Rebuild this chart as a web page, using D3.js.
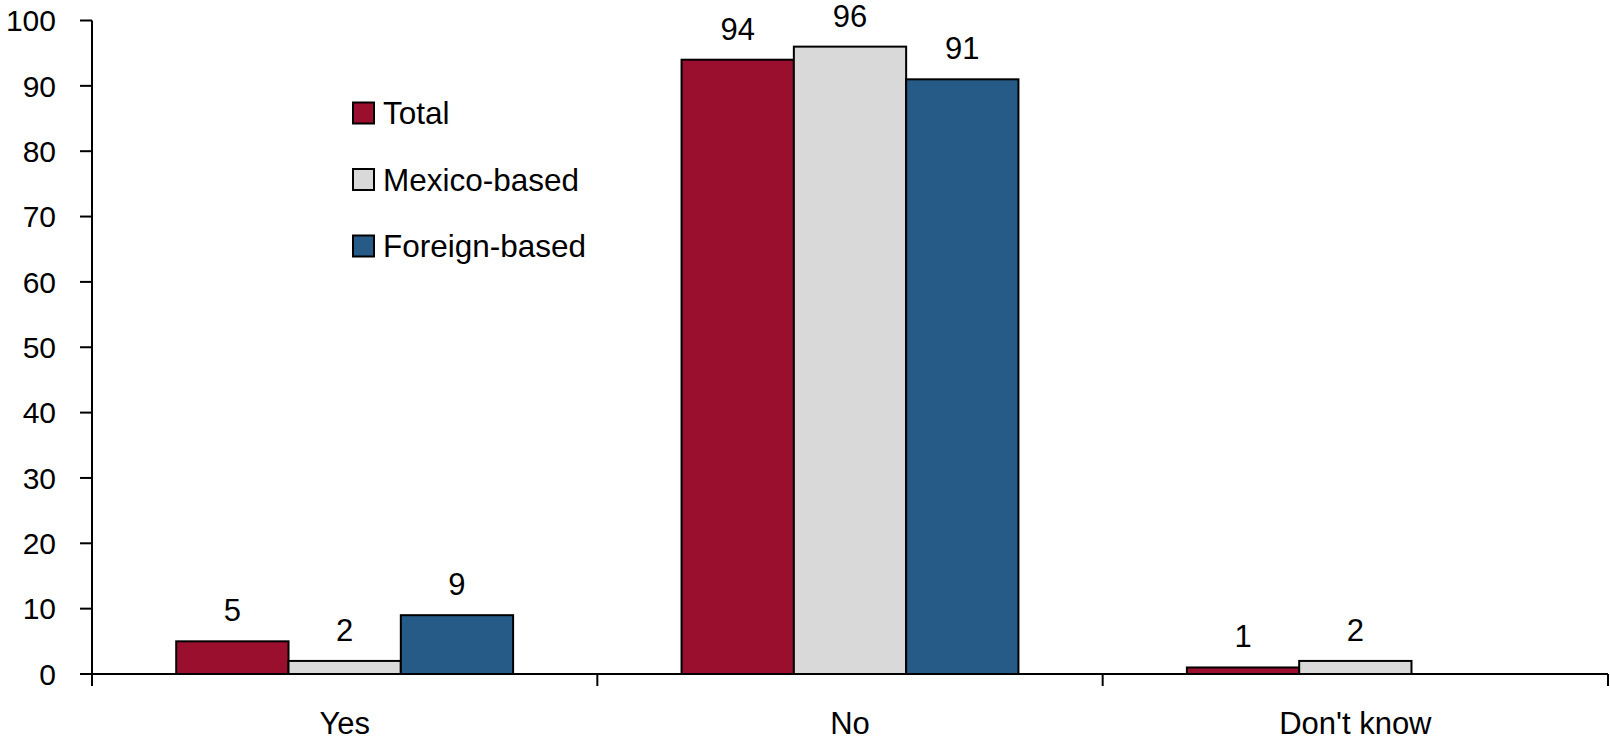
<!DOCTYPE html>
<html>
<head>
<meta charset="utf-8">
<script src="https://cdn.jsdelivr.net/npm/d3@7"></script>
<style>
  body { margin: 0; background: #fff; }
  svg text { font-family: 'Liberation Sans', Arial, sans-serif; fill: #000; }
</style>
</head>
<body>
<svg id="container"></svg>
<script>
const categories = ['Yes', 'No', "Don't know"];
const seriesNames = ['Total', 'Mexico-based', 'Foreign-based'];
const totalValues = [5, 94, 1];
const mexicoValues = [2, 96, 2];
const foreignValues = [9, 91, null];
const yTicks = [0, 10, 20, 30, 40, 50, 60, 70, 80, 90, 100];
const colors = ['#9b0f2e', '#d9d9d9', '#265b88'];

function drawChart() {
  const W = 1610;
  const H = 740;
  const margin = { top: 20.5, right: 2, bottom: 66, left: 92 };
  const w = W - margin.left - margin.right;
  const h = H - margin.top - margin.bottom;

  const svg = d3
    .select('#container')
    .attr('width', W)
    .attr('height', H)
    .append('g')
    .attr('transform', 'translate(' + margin.left + ',' + margin.top + ')');

  const series = [totalValues, mexicoValues, foreignValues];

  const xScale = d3.scaleBand().domain(categories).range([0, w]);
  // excel-ish gap width 150%: band = 4.5 bar widths
  const barW = xScale.bandwidth() / 4.5;
  const yScale = d3.scaleLinear().domain([0, 100]).range([h, 0]);

  // y axis
  const gY = svg.append('g').attr('class', 'axis y-axis');
  gY.append('line')
    .attr('x1', 0).attr('x2', 0)
    .attr('y1', yScale(100)).attr('y2', yScale(0) + 12)
    .attr('stroke', '#000').attr('stroke-width', 2);
  gY.selectAll('.ytick')
    .data(yTicks)
    .enter()
    .append('line')
    .attr('x1', -12).attr('x2', 0)
    .attr('y1', (d) => yScale(d)).attr('y2', (d) => yScale(d))
    .attr('stroke', '#000').attr('stroke-width', 2);
  gY.selectAll('.ylabel')
    .data(yTicks)
    .enter()
    .append('text')
    .attr('x', -36)
    .attr('y', (d) => yScale(d))
    .attr('dy', '0.36em')
    .attr('text-anchor', 'end')
    .style('font-size', '30px')
    .text((d) => d);

  // bars
  const groups = svg
    .selectAll('.group')
    .data(categories)
    .enter()
    .append('g')
    .attr('transform', (d) => 'translate(' + (xScale(d) + barW * 0.75) + ',0)');

  groups.each(function (cat, ci) {
    const g = d3.select(this);
    series.forEach((vals, si) => {
      const v = vals[ci];
      if (v == null) return;
      g.append('rect')
        .attr('x', si * barW)
        .attr('y', yScale(v))
        .attr('width', barW)
        .attr('height', yScale(0) - yScale(v))
        .attr('fill', colors[si])
        .attr('stroke', '#000')
        .attr('stroke-width', 2);
      g.append('text')
        .attr('x', si * barW + barW / 2)
        .attr('y', yScale(v) - 20)
        .attr('text-anchor', 'middle')
        .style('font-size', '31px')
        .text(v);
    });
  });

  // x axis
  const gX = svg.append('g').attr('class', 'axis x-axis').attr('transform', 'translate(0,' + h + ')');
  gX.append('line')
    .attr('x1', 0).attr('x2', w)
    .attr('stroke', '#000').attr('stroke-width', 2);
  const bounds = categories.map((c) => xScale(c)).concat([w]);
  gX.selectAll('.xtick')
    .data(bounds)
    .enter()
    .append('line')
    .attr('x1', (d) => d).attr('x2', (d) => d)
    .attr('y1', 0).attr('y2', 12)
    .attr('stroke', '#000').attr('stroke-width', 2);
  gX.selectAll('.xlabel')
    .data(categories)
    .enter()
    .append('text')
    .attr('x', (d) => xScale(d) + xScale.bandwidth() / 2)
    .attr('y', 60)
    .attr('text-anchor', 'middle')
    .style('font-size', '31px')
    .text((d) => d);

  // legend
  const legend = d3.select('#container').append('g').attr('transform', 'translate(353,113)');
  seriesNames.forEach((name, i) => {
    const row = legend.append('g').attr('transform', 'translate(0,' + i * 66.5 + ')');
    row.append('rect')
      .attr('x', 0).attr('y', -10.5)
      .attr('width', 21).attr('height', 21)
      .attr('fill', colors[i])
      .attr('stroke', '#000')
      .attr('stroke-width', 2);
    row.append('text')
      .attr('x', 30)
      .attr('y', 0)
      .attr('dy', '0.36em')
      .style('font-size', '31.5px')
      .text(name);
  });
}

drawChart();
</script>
</body>
</html>
